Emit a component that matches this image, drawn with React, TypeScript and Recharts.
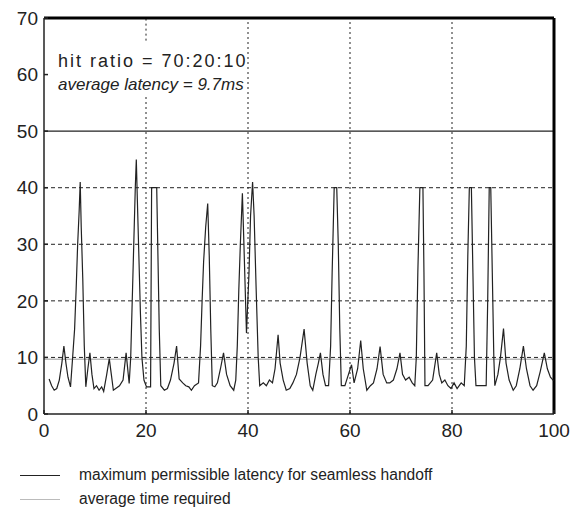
import { LineChart, Line, XAxis, YAxis, ReferenceLine } from 'recharts';

const sampleX = [
  1, 1.5, 2, 2.5, 3, 3.5, 3.9, 4.3, 4.7, 5.2, 5.6, 6, 6.3, 6.6, 6.9, 7.1, 7.3, 7.6, 7.9, 8.2,
  8.6, 9, 9.4, 9.8, 10.3, 10.8, 11.3, 11.7, 12.3, 12.8, 13.2, 13.6, 14.2, 14.8, 15.5, 16.1, 16.7,
  17, 17.3, 17.6, 17.9, 18.1, 18.3, 18.6, 18.9, 19.2, 19.6, 20.1, 20.9, 21.1, 22.1, 22.3, 22.6,
  22.9, 23.6, 24.2, 24.8, 25.5, 26, 26.5, 27.2, 27.8, 28.4, 28.9, 29.5, 30.3, 30.7, 31, 31.3,
  31.7, 32.1, 32.4, 32.7, 33, 33.5, 34, 34.6, 35.2, 35.8, 36.5, 37.2, 37.6, 37.9, 38.2, 38.5,
  38.9, 39.2, 39.7, 40.2, 40.5, 40.9, 41.2, 41.6, 42, 42.3, 43, 43.6, 44.2, 44.8, 45.3, 45.9,
  46.3, 46.9, 47.5, 48.2, 48.8, 49.5, 50.2, 51, 51.6, 52.2, 52.7, 53.3, 53.8, 54.2, 54.7, 55.2,
  55.8, 56.2, 56.5, 56.9, 57.4, 57.7, 58, 58.3, 59, 59.7, 60.3, 60.8, 61.5, 62.1, 62.6, 63.3,
  64, 64.6, 65.3, 65.9, 66.5, 67.2, 67.8, 68.5, 69.2, 69.8, 70.3, 70.9, 71.6, 72.2, 72.7, 73,
  73.3, 73.7, 74.3, 74.5, 74.7, 75.3, 76.2, 77, 77.5, 78, 78.6, 79.2, 79.8, 80.4, 81, 81.8,
  82.4, 82.8, 83.1, 83.4, 83.8, 84.1, 84.4, 84.7, 86.7, 87, 87.3, 87.6, 87.9, 88.2, 88.4, 89,
  89.5, 90.1, 90.6, 91.2, 92, 92.6, 93.3, 94, 94.6, 95.3, 95.9, 96.6, 97.3, 98.1, 98.7, 99.3, 99.9,
];
const latency = [
  6.2, 5, 4.2, 4.5, 6, 9, 12, 9, 6.5, 4.8, 9.8, 15, 22, 30, 36, 41, 33, 24, 12, 4.8,
  8, 10.8, 7, 4.5, 5, 4.2, 4.8, 4, 7, 9.8, 7, 4.2, 4.6, 5, 6, 10.8, 5.4,
  10, 20, 30, 40, 45, 38, 28, 18, 10, 6, 4.8, 4.8, 40, 40, 30, 15,
  5, 4.2, 4.5, 6, 9, 12, 6.2, 5.5, 5, 4.8, 4.2, 5, 5.5, 12, 20, 27,
  33, 37.2, 28, 15, 5, 4.8, 5.5, 8, 10.8, 7, 5, 4.2, 6, 12, 22, 30,
  39, 30, 14.3, 25, 35, 41, 35, 22, 10, 5, 5.5, 5, 6, 5.5, 8, 14,
  9, 6, 4.2, 4.5, 5.5, 7, 10, 15, 9, 5, 4.2, 7, 9, 10.8, 7, 5,
  5, 12, 25, 40, 40, 30, 15, 5, 5, 7, 8.7, 5.5, 8, 13, 8, 4.2,
  5, 5.5, 8, 11.9, 7, 5.5, 5.5, 6, 8, 10.8, 7, 6, 6.5, 5.5, 5, 10,
  25, 40, 40, 25, 5, 5, 6, 10.8, 7, 5.5, 6, 5, 4.5, 5.5, 4.5, 5.5,
  5, 12, 28, 40, 40, 25, 10, 5, 5, 20, 40, 40, 25, 10, 5, 7,
  10, 15.1, 9, 6, 4.2, 5, 8, 12, 8, 5, 4.2, 5, 7.5, 10.8, 8, 6.5, 5.9,
];

const xTicks = [0, 20, 40, 60, 80, 100];
const yTicks = [0, 10, 20, 30, 40, 50, 60, 70];
const gridY = [10, 20, 30, 40];
const gridX = [20, 40, 60, 80];
const xMax = 100;
const yMax = 70;
const maxLatency = 50;
const avgLatency = 9.7;
const notes = ['hit ratio = 70:20:10', 'average latency = 9.7ms'];
// vertical span (in y units) hidden behind the note box
const noteGap = [56.5, 66];
const legendItems = [
  { label: 'maximum permissible latency for seamless handoff', color: '#222' },
  { label: 'average time required', color: '#bbb' },
];

const data = sampleX.map((x, i) => ({ x, latency: latency[i] }));

const FONT = '"Liberation Sans", Arial, sans-serif';

const NoteLabel = (props: any) => {
  const { viewBox } = props;
  const x = viewBox.x;
  const y = viewBox.y;
  return (
    <g>
      <text x={x + 14} y={y + 49} fontSize={18} letterSpacing={2} fontFamily={FONT} fill="#222">
        {notes[0]}
      </text>
      <text x={x + 14} y={y + 72} fontSize={17} fontFamily={FONT} fontStyle="italic" fill="#222">
        {notes[1]}
      </text>
    </g>
  );
};

export default function App() {
  return (
    <div style={{ position: 'absolute', left: 0, top: 0, width: 571, height: 510, background: '#fff', fontFamily: FONT }}>
      <LineChart width={571} height={450} data={data} margin={{ top: 18, right: 17, left: 0, bottom: 0 }}>
        <XAxis
          dataKey="x"
          type="number"
          domain={[0, xMax]}
          ticks={xTicks}
          height={36}
          stroke="#222"
          strokeWidth={1.5}
          tickSize={-4}
          tickMargin={14}
          tick={{ fontSize: 19, fill: '#222', fontFamily: FONT }}
        />
        <YAxis
          type="number"
          domain={[0, yMax]}
          ticks={yTicks}
          width={44}
          stroke="#222"
          strokeWidth={1.5}
          tickSize={-4}
          tickMargin={10}
          tick={{ fontSize: 19, fill: '#222', fontFamily: FONT }}
        />
        {gridY.map((v) => (
          <ReferenceLine key={`gy${v}`} y={v} stroke="#222" strokeDasharray="4 3" />
        ))}
        {gridX.map((v) =>
          v === 20 ? (
            [
              <ReferenceLine key="gx20a" segment={[{ x: v, y: 0 }, { x: v, y: noteGap[0] }]} stroke="#222" strokeDasharray="2 3" />,
              <ReferenceLine key="gx20b" segment={[{ x: v, y: noteGap[1] }, { x: v, y: yMax }]} stroke="#222" strokeDasharray="2 3" />,
            ]
          ) : (
            <ReferenceLine key={`gx${v}`} x={v} stroke="#222" strokeDasharray="2 3" />
          ),
        )}
        <ReferenceLine y={maxLatency} stroke="#222" strokeWidth={1.2} />
        <ReferenceLine y={avgLatency} stroke="#bbb" strokeWidth={1.5} />
        {/* top and right edges of the plot frame */}
        <ReferenceLine y={yMax} stroke="#000" strokeWidth={3} label={<NoteLabel />} />
        <ReferenceLine x={xMax} stroke="#000" strokeWidth={3} />
        <Line
          type="linear"
          dataKey="latency"
          stroke="#222"
          strokeWidth={1.2}
          dot={false}
          isAnimationActive={false}
        />
      </LineChart>
      {legendItems.map((item, i) => (
        <div key={item.label} style={{ position: 'absolute', left: 20, top: 466 + i * 24, display: 'flex', alignItems: 'center', fontSize: 15.6, color: '#222' }}>
          <div style={{ width: 40, height: 0, borderTop: `1.5px solid ${item.color}`, marginRight: 19 }} />
          <span>{item.label}</span>
        </div>
      ))}
    </div>
  );
}
